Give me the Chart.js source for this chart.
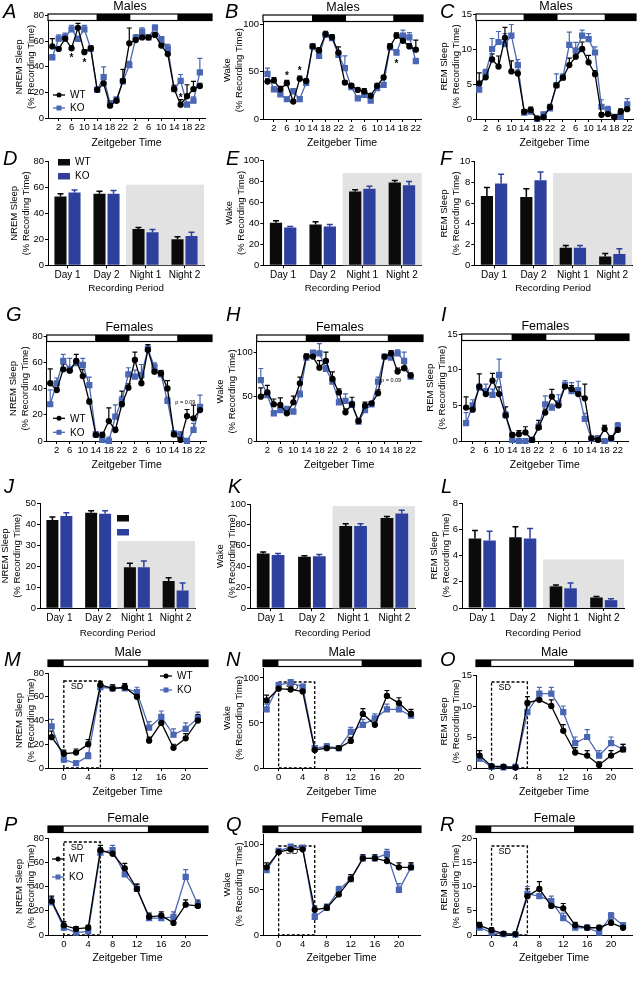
<!DOCTYPE html>
<html lang="en">
<head>
<meta charset="UTF-8">
<meta name="viewport" content="width=device-width, initial-scale=1.0">
<script src="https://cdn.jsdelivr.net/npm/chart.js"></script>
<title>Sleep / wake WT vs KO</title>
<style>
  body { margin: 0; background: #fff; }
  #fig { position: relative; width: 642px; height: 1000px; overflow: hidden; font-family: 'Liberation Sans', Arial, sans-serif; }
  #fig canvas { position: absolute; }
  .lt { position: absolute; font-size: 20px; line-height: 20px; font-style: italic; color: #000; }
</style>
</head>
<body>
<div id="fig"></div>
<script>
// ---------- data ----------
const zt48 = [0,2,4,6,8,10,12,14,16,18,20,22,24,26,28,30,32,34,36,38,40,42,44,46];
const zt48Ticks = [2,6,10,14,18,22,26,30,34,38,42,46];
const ld48 = [[-5,13.8,'L'],[13.8,24.4,'D'],[24.4,39,'L'],[39,99,'D']];
const zt24 = [-2,0,2,4,6,8,10,12,14,16,18,20,22];
const zt24Ticks = [0,4,8,12,16,20];
const ld24 = [[-9,0,'D'],[0,13.8,'L'],[13.8,99,'D']];
const periods = ['Day 1','Day 2','Night 1','Night 2'];

// males, 48 h
const aWT  = [56,54,62,54.5,70.5,51.5,54.5,22,27,9.6,13.5,29,58.4,61,63,63,65,56.6,50,22.6,10.4,17,22.6,25];
const aWTe = [6,1,2,2,3.5,2,2,2,1,1,2,9,12,3,1.5,1.5,2,2,2,3,4,9,6,2];
const aKO  = [47.5,62,63.4,69.4,61.8,69.4,54,22,32,11.7,14.3,28.6,41.3,62.3,67.5,63,70.6,61.6,54.5,22.6,29,10.4,13.5,35.6];
const aKOe = [2,3,3,3,2,3,2,2,8,2,2,2,3,3,3,2,2,2,3,3,5,2,3,11];
const aStars = [[6,48],[10,44],[40,17]];

const bWT  = [39.4,40.5,31.3,37.7,18.3,42.3,40,76.4,72.2,89.4,86,70,38.4,35,30.6,29,24.6,35,43.7,76.4,87.7,82.4,76.4,73];
const bWTe = [3,3,3,3,2,3,2,3,3,3,3,6,2,2,2,3,2,2,2,3,3,3,3,10];
const bKO  = [47.5,31.3,26,20.8,29,21,38,76.4,66.5,88.7,85.2,67.6,53.5,33.5,21.8,25.4,19.4,32.4,36,75.4,70,87.7,86,61];
const bKOe = [6,2,2,2,3,2,2,3,3,2,3,2,13,2,2,2,2,2,2,2,3,6,5,3];
const bStars = [[6,47.5],[10,52],[40,59.5]];

const cWT  = [5.1,5.95,8.5,7.5,11.6,6.8,6.5,1.05,1.3,0.1,0.25,1.7,4.8,5.9,7.7,8.9,10,8.1,6.4,0.6,0.7,0.25,1.05,1.4];
const cWTe = [1.5,0.5,0.8,1.5,1.5,1.5,0.5,0.3,0.4,0.2,0.2,0.4,0.3,0.3,1,1.2,1,1,0.5,0.3,0.2,0.2,0.4,0.6];
const cKO  = [4.2,6.6,10,11,10.7,11.9,7.7,0.9,1.05,0,0.65,1.5,4.85,5.95,10.6,9.75,11.9,11.4,9.5,1.75,1.3,0.3,0.3,2.1];
const cKOe = [0.5,0.5,1.5,1.5,1.5,1.6,0.8,0.3,0.3,0.1,0.3,0.4,1.6,0.5,1.8,1.2,0.8,0.8,0.8,1,0.5,0.3,0.4,0.8];

// males, period means
const dWT = [53,55,28,20],     dWTe = [2,2,1,2];
const dKO = [56,55,25.5,22.5], dKOe = [2,2.5,2,3];
const eWT = [40.5,39,70.5,79], eWTe = [2,2.5,1.5,2];
const eKO = [36,37,73,76.5],   eKOe = [1,2,2.5,3.5];
const fWT = [6.7,6.6,1.7,0.85], fWTe = [0.8,0.8,0.2,0.3];
const fKO = [7.9,8.2,1.7,1.1],  fKOe = [0.9,0.8,0.2,0.5];

// females, 48 h
const gWT  = [44,38.8,54.6,53.6,61,49.5,30,4.6,4.6,15.2,8.4,28,40.6,61.7,44,69.5,52.8,51.5,40,5,0.8,19,17.3,23.6];
const gWTe = [11,2,4,2,5,5,2,2,2,10,2,10,3,6,4,4,4,2,6,2,1,5,10,3];
const gKO  = [28,44,61,55,59.4,58,42.6,5,0.8,0,18.5,31,50.8,49,50.3,70,56.6,50.8,30.5,5.8,5,0,8.4,26];
const gKOe = [11,4,5,8,3,5,6,2,2,3,9,3,5,5,8,3,3,3,3,2,2,2,5,9];

const hWT  = [50.2,55,41.5,40.8,31.3,43.8,65.3,95.5,95.5,83,90.6,70.2,55,32.5,41.5,22.6,40,42.6,54,95.5,99.2,78.5,82.3,74];
const hWTe = [10,8,6,8,3,7,7,3,3,8,10,8,4,4,8,2,4,2,4,2,3,4,7,3];
const hKO  = [69,52,31.3,35,36.2,33.2,52.8,94.3,100,99.2,81.5,67.2,43.8,45.3,40.8,21.9,35,41.5,67.2,95.5,94.3,99.2,90.6,72.8];
const hKOe = [13,3,3,3,3,3,4,2,2,11,4,4,4,8,4,3,3,3,5,2,3,4,10,3];

const iWT  = [4.7,4.4,7.65,6.6,8.5,6.6,3.6,0.85,0.95,1.2,0.15,1.9,4,6.25,5,7.65,7.3,6.6,6,0.4,0.15,1.7,0.4,1.55];
const iWTe = [1.5,0.5,1.8,0.5,1,1,1.2,0.3,0.5,0.8,0.1,1,0.5,1,0.5,0.4,0.5,0.8,2,0.2,0.1,0.5,0.1,0.4];
const iKO  = [2.5,5,7.5,7,6.5,9.3,3.65,0.15,0,0,0.15,2,5.15,4.7,5.3,7.9,7,7.1,3.1,0.3,0.4,0,0.3,2.1];
const iKOe = [1.5,0.8,0.5,1,0.8,2.2,0.5,0.1,0.1,0.1,0.1,0.5,1.2,0.5,1.2,0.6,1.2,1.3,0.8,0.2,0.2,0.1,0.2,0.5];

// females, period means
const jWT = [42,45.5,19.5,13], jWTe = [1.5,1,2,1.5];
const jKO = [44,45,19.5,8.5],  jKOe = [1.5,1.5,3,3.5];
const kWT = [52.5,49.5,79,86.5], kWTe = [1.5,1,2,1.5];
const kKO = [51,50,79,91],       kKOe = [1.5,1.5,2,3];
const lWT = [5.3,5.4,1.65,0.8],  lWTe = [0.6,0.8,0.1,0.08];
const lKO = [5.15,5.3,1.5,0.6],  lKOe = [0.7,0.75,0.4,0.1];

// sleep deprivation, 24 h
const mWT  = [26,12,13,20,70,67,68,60,23,38,17,25,40];
const mWTe = [5,3,3,4,3,3,3,4,3,4,3,4,5];
const mKO  = [35,7,4,10,68,67,67,64,34,43,28,33,42];
const mKOe = [6,3,2,3,3,3,3,4,5,5,5,5,5];
const nWT  = [75,88,87,85,20,22,22,30,60,48,80,72,60];
const nWTe = [6,4,4,4,3,3,3,4,6,5,6,6,5];
const nKO  = [65,92,95,90,22,24,22,40,48,55,65,65,58];
const nKOe = [6,3,3,3,3,3,3,5,6,5,6,6,5];
const oWT  = [2,0.3,0.2,0.1,10.5,11,10,6,2.5,2,0.5,2,3];
const oWTe = [0.8,0.2,0.2,0.1,1,1.2,1,1,0.8,0.8,0.5,0.8,0.8];
const oKO  = [1.5,0.2,0.1,0.2,9,12,12,9,4,5,2,4,3];
const oKOe = [0.6,0.2,0.1,0.1,1,1,1,1,1,1.2,0.8,1,0.8];
const pWT  = [28,8,5,6,70,67,55,38,15,16,10,25,24];
const pWTe = [4,3,2,2,4,4,4,4,3,3,3,4,4];
const pKO  = [27,6,2,3,68,70,50,38,14,14,15,48,25];
const pKOe = [4,2,2,2,4,4,4,4,3,3,4,6,4];
const qWT  = [75,92,95,95,28,30,45,62,85,85,82,75,75];
const qWTe = [5,3,2,2,4,4,4,5,4,4,4,5,5];
const qKO  = [72,93,98,97,20,30,50,62,85,85,90,50,75];
const qKOe = [5,3,2,2,4,4,4,5,4,4,5,7,5];
const rWT  = [2,1,0.3,0.2,8,9.5,6,5.5,2,1.5,1.5,2.5,1.5];
const rWTe = [0.6,0.5,0.2,0.2,1.5,1.5,1,1,0.6,0.5,0.5,0.6,0.5];
const rKO  = [1.5,0.5,0.2,0.1,8.5,8,7,3.5,1.5,1.5,0.5,4,2];
const rKOe = [0.5,0.3,0.2,0.1,1.5,1.5,1,1,0.5,0.5,0.4,0.6,0.5];

// ---------- drawing ----------
const FONT = "'Liberation Sans', Arial, sans-serif";
const BLUE_LINE = '#4a67b5';
const BLUE_BAR = '#2e409e';
const GRAY = '#e2e2e2';
Chart.defaults.font.family = FONT;
Chart.defaults.color = '#000';
const fig = document.getElementById('fig');

function makeCanvas(p, wy, hx, padT, padR) {
  const L = Math.round(p.l - wy), T = Math.round(p.t - padT);
  const W = Math.round(p.r + padR - L), H = Math.round(p.b + hx - T);
  const cv = document.createElement('canvas');
  cv.width = W; cv.height = H;
  cv.style.left = L + 'px'; cv.style.top = T + 'px';
  fig.appendChild(cv);
  return {cv, L, T, wy: p.l - L, padT: p.t - T, padR: W - (p.r - L), hx: H - (p.b - T)};
}

function yScale(f, p) {
  return {
    min: 0, max: p.ymax,
    afterFit: s => { s.width = f.wy; },
    afterBuildTicks: s => { s.ticks = p.yticks.map(v => ({value: v})); },
    ticks: {font: {size: 9.5}, color: '#000', padding: 1},
    grid: {drawOnChartArea: false, tickLength: 3, color: '#000'},
    border: {color: '#000', width: 1},
    title: {display: true, text: p.ytitle, color: '#000', padding: 0, font: {size: 9.5, lineHeight: 1.23}}
  };
}

function errBar(ctx, x, y0, y1, col, half, lw) {
  ctx.strokeStyle = col; ctx.lineWidth = lw;
  ctx.beginPath();
  ctx.moveTo(x, y0); ctx.lineTo(x, y1);
  ctx.moveTo(x - half, y1); ctx.lineTo(x + half, y1);
  ctx.stroke();
}

function linePanel(p) {
  const f = makeCanvas(p, p.l - (p.yTitleX - 6.5), p.xTitleY - p.b + 6.3, p.t - p.barTop + 16, 10);
  const cx = x => x - f.L, cy = y => y - f.T;
  const decor = {
    id: 'decor',
    beforeDatasetsDraw(chart) {
      const {ctx, chartArea: a, scales: {x, y}} = chart;
      ctx.save();
      // light / dark bar
      const by = cy(p.barTop), bh = 6.5, xr = cx(p.barR);
      p.ld.forEach(([s, e, k]) => {
        const x0 = s <= x.min ? a.left : x.getPixelForValue(s);
        const x1 = e >= x.max ? xr : x.getPixelForValue(e);
        ctx.fillStyle = k === 'D' ? '#000' : '#fff';
        ctx.fillRect(x0, by, x1 - x0, bh);
      });
      ctx.strokeStyle = '#000'; ctx.lineWidth = 1.2;
      ctx.strokeRect(a.left, by, xr - a.left, bh);
      ctx.fillStyle = '#000'; ctx.font = '12.5px ' + FONT;
      ctx.textAlign = 'center'; ctx.textBaseline = 'middle';
      ctx.fillText(p.title, (a.left + xr) / 2, by - 7);
      // sleep deprivation box
      if (p.sd) {
        const x0 = x.getPixelForValue(p.sd[0]), x1 = x.getPixelForValue(p.sd[1]), y0 = cy(p.sdTop);
        ctx.setLineDash([3, 2]); ctx.lineWidth = 1.3; ctx.strokeStyle = '#000';
        ctx.strokeRect(x0, y0, x1 - x0, a.bottom - y0);
        ctx.setLineDash([]);
        ctx.font = '9px ' + FONT; ctx.textAlign = 'left';
        ctx.fillText('SD', x0 + 7, y0 + 6);
      }
      // error bars (upper only)
      [[p.ko, p.koErr, BLUE_LINE, 1], [p.wt, p.wtErr, '#000', 0]].forEach(([vals, errs, col, di]) => {
        chart.getDatasetMeta(di).data.forEach((pt, j) => {
          errBar(ctx, pt.x, pt.y, y.getPixelForValue(vals[j] + errs[j]), col, 2.5, 1.2);
        });
      });
      ctx.restore();
    },
    afterDatasetsDraw(chart) {
      const {ctx, scales: {x, y}} = chart;
      ctx.save();
      ctx.fillStyle = '#000'; ctx.textAlign = 'center'; ctx.textBaseline = 'middle';
      ctx.font = 'bold 10px ' + FONT;
      (p.stars || []).forEach(([zt, v]) => ctx.fillText('*', x.getPixelForValue(zt), y.getPixelForValue(v) + 2));
      if (p.pval) {
        ctx.font = '5.5px ' + FONT;
        ctx.fillText('p = 0.09', x.getPixelForValue(p.pval[0]), y.getPixelForValue(p.pval[1]));
      }
      if (p.legend) {
        const lg = p.legend;
        [['WT', '#000', 'circle', lg.y1], ['KO', BLUE_LINE, 'rect', lg.y2]].forEach(([t, col, st, yy]) => {
          const x0 = cx(lg.x), y0 = cy(yy);
          ctx.strokeStyle = col; ctx.fillStyle = col; ctx.lineWidth = 1.3;
          ctx.beginPath(); ctx.moveTo(x0, y0); ctx.lineTo(x0 + 12, y0); ctx.stroke();
          if (st === 'circle') { ctx.beginPath(); ctx.arc(x0 + 6, y0, 2.5, 0, Math.PI * 2); ctx.fill(); }
          else ctx.fillRect(x0 + 3.5, y0 - 2.5, 5, 5);
          ctx.fillStyle = '#000'; ctx.font = '10px ' + FONT; ctx.textAlign = 'left';
          ctx.fillText(t, x0 + 17, y0 + 0.5);
        });
      }
      ctx.restore();
    }
  };
  const pts = (xs, ys) => xs.map((v, i) => ({x: v, y: ys[i]}));
  new Chart(f.cv, {
    type: 'line',
    data: {datasets: [
      {data: pts(p.xs, p.wt), borderColor: '#000', backgroundColor: '#000', pointStyle: 'circle', pointRadius: 2.5, borderWidth: 1.3, clip: false},
      {data: pts(p.xs, p.ko), borderColor: BLUE_LINE, backgroundColor: BLUE_LINE, pointStyle: 'rect', pointRadius: 3.5, borderWidth: 1.3, clip: false}
    ]},
    options: {
      responsive: false, animation: false, events: [],
      layout: {padding: {top: f.padT, right: f.padR, left: 0, bottom: 0}},
      plugins: {legend: {display: false}, tooltip: {enabled: false}},
      scales: {
        x: {
          type: 'linear', min: p.xmin, max: p.xmax,
          afterFit: s => { s.height = f.hx; },
          afterBuildTicks: s => { s.ticks = p.xticks.map(v => ({value: v})); },
          ticks: {font: {size: 9.5}, color: '#000', padding: 1, maxRotation: 0, autoSkip: false, callback: v => v % 24},
          grid: {drawOnChartArea: false, tickLength: 3, color: '#000'},
          border: {color: '#000', width: 1},
          title: {display: true, text: 'Zeitgeber Time', color: '#000', padding: 0, font: {size: 10.5, lineHeight: 1.2}}
        },
        y: yScale(f, p)
      }
    },
    plugins: [decor]
  });
}

function barPanel(p) {
  const f = makeCanvas(p, p.l - (p.yTitleX - 6.5), p.xTitleY - p.b + 6, 12, 4);
  const cx = x => x - f.L, cy = y => y - f.T;
  const decor = {
    id: 'decor',
    beforeDatasetsDraw(chart) {
      const {ctx, chartArea: a, scales: {x, y}} = chart;
      const x0 = x.getPixelForValue(1.5), y0 = y.getPixelForValue(p.shade);
      ctx.save();
      ctx.fillStyle = GRAY;
      ctx.fillRect(x0, y0, a.right - x0, a.bottom - y0);
      ctx.restore();
    },
    afterDatasetsDraw(chart) {
      const {ctx, scales: {y}} = chart;
      ctx.save();
      [[p.wt, p.wtErr, '#000', 0], [p.ko, p.koErr, BLUE_BAR, 1]].forEach(([vals, errs, col, di]) => {
        chart.getDatasetMeta(di).data.forEach((b, j) => {
          errBar(ctx, b.x, b.y, y.getPixelForValue(vals[j] + errs[j]), col, 3, 1.5);
        });
      });
      if (p.legend) {
        const lg = p.legend;
        [['WT', '#0b0b0b', lg.y1], ['KO', BLUE_BAR, lg.y2]].forEach(([t, col, yy]) => {
          ctx.fillStyle = col;
          ctx.fillRect(cx(lg.x), cy(yy), 12, 6.5);
          if (lg.text) {
            ctx.fillStyle = '#000'; ctx.font = '10px ' + FONT;
            ctx.textAlign = 'left'; ctx.textBaseline = 'middle';
            ctx.fillText(t, cx(lg.x) + 17, cy(yy) + 3.5);
          }
        });
      }
      ctx.restore();
    }
  };
  new Chart(f.cv, {
    type: 'bar',
    data: {labels: periods, datasets: [
      {data: p.wt, backgroundColor: '#0b0b0b', categoryPercentage: 0.72, barPercentage: 0.86},
      {data: p.ko, backgroundColor: BLUE_BAR, categoryPercentage: 0.72, barPercentage: 0.86}
    ]},
    options: {
      responsive: false, animation: false, events: [],
      layout: {padding: {top: f.padT, right: f.padR, left: 0, bottom: 0}},
      plugins: {legend: {display: false}, tooltip: {enabled: false}},
      scales: {
        x: {
          afterFit: s => { s.height = f.hx; },
          ticks: {font: {size: 10}, color: '#000', padding: 1, maxRotation: 0, autoSkip: false},
          grid: {offset: false, drawOnChartArea: false, tickLength: 3, color: '#000'},
          border: {color: '#000', width: 1},
          title: {display: true, text: 'Recording Period', color: '#000', padding: 0, font: {size: 9.8, lineHeight: 1.2}}
        },
        y: yScale(f, p)
      }
    },
    plugins: [decor]
  });
}

const NREM = ['NREM Sleep', '(% Recording Time)'];
const WAKE = ['Wake', '(% Recording Time)'];
const REM = ['REM Sleep', '(% Recording Time)'];

// row 1 : males across 48 h
linePanel({title: 'Males', xs: zt48, xticks: zt48Ticks, ld: ld48, xmin: -1.34, xmax: 47.6,
  l: 48, r: 205, t: 15.7, b: 118, ymax: 80, yticks: [0,20,40,60,80], ytitle: NREM, yTitleX: 20, xTitleY: 143,
  barTop: 14, barR: 212, wt: aWT, wtErr: aWTe, ko: aKO, koErr: aKOe, stars: aStars, legend: {x: 53, y1: 95, y2: 108}});
linePanel({title: 'Males', xs: zt48, xticks: zt48Ticks, ld: ld48, xmin: -1.39, xmax: 47.6,
  l: 263, r: 421, t: 21.2, b: 119, ymax: 103, yticks: [0,50,100], ytitle: WAKE, yTitleX: 228.3, xTitleY: 142.7,
  barTop: 15, barR: 423, wt: bWT, wtErr: bWTe, ko: bKO, koErr: bKOe, stars: bStars});
linePanel({title: 'Males', xs: zt48, xticks: zt48Ticks, ld: ld48, xmin: -1, xmax: 47.8,
  l: 476, r: 633, t: 14, b: 119, ymax: 15, yticks: [0,5,10,15], ytitle: REM, yTitleX: 445, xTitleY: 142.7,
  barTop: 14, barR: 636, wt: cWT, wtErr: cWTe, ko: cKO, koErr: cKOe});

// row 2 : males, period means
barPanel({l: 48, r: 204, t: 161.3, b: 265.3, ymax: 80, yticks: [0,20,40,60,80], ytitle: NREM, yTitleX: 15, xTitleY: 288.3,
  shade: 62, wt: dWT, wtErr: dWTe, ko: dKO, koErr: dKOe, legend: {x: 58, y1: 159, y2: 173, text: true}});
barPanel({l: 263.3, r: 421.7, t: 160.5, b: 265.3, ymax: 100, yticks: [0,20,40,60,80,100], ytitle: WAKE, yTitleX: 230, xTitleY: 288.3,
  shade: 88, wt: eWT, wtErr: eWTe, ko: eKO, koErr: eKOe});
barPanel({l: 474.3, r: 632, t: 161.7, b: 265.3, ymax: 10, yticks: [0,2,4,6,8,10], ytitle: REM, yTitleX: 445, xTitleY: 288.3,
  shade: 8.9, wt: fWT, wtErr: fWTe, ko: fKO, koErr: fKOe});

// row 3 : females across 48 h
linePanel({title: 'Females', xs: zt48, xticks: zt48Ticks, ld: ld48, xmin: -1.08, xmax: 48.05,
  l: 46.7, r: 206.7, t: 336, b: 441, ymax: 80, yticks: [0,20,40,60,80], ytitle: NREM, yTitleX: 14, xTitleY: 465,
  barTop: 335, barR: 212, wt: gWT, wtErr: gWTe, ko: gKO, koErr: gKOe, pval: [41.5, 29.4], legend: {x: 53, y1: 418.3, y2: 432.3}});
linePanel({title: 'Females', xs: zt48, xticks: zt48Ticks, ld: ld48, xmin: -1.26, xmax: 49.4,
  l: 256.7, r: 421.7, t: 342, b: 441, ymax: 112, yticks: [0,50,100], ytitle: WAKE, yTitleX: 221.7, xTitleY: 465,
  barTop: 335, barR: 423, wt: hWT, wtErr: hWTe, ko: hKO, koErr: hKOe, pval: [40, 68]});
linePanel({title: 'Females', xs: zt48, xticks: zt48Ticks, ld: ld48, xmin: -1.33, xmax: 49.1,
  l: 461.7, r: 628, t: 334.3, b: 441, ymax: 15, yticks: [0,5,10,15], ytitle: REM, yTitleX: 431.7, xTitleY: 465,
  barTop: 334, barR: 629, wt: iWT, wtErr: iWTe, ko: iKO, koErr: iKOe});

// row 4 : females, period means
barPanel({l: 40, r: 195, t: 503.3, b: 608.3, ymax: 50, yticks: [0,10,20,30,40,50], ytitle: NREM, yTitleX: 6, xTitleY: 633.3,
  shade: 32, wt: jWT, wtErr: jWTe, ko: jKO, koErr: jKOe, legend: {x: 117, y1: 515, y2: 529, text: false}});
barPanel({l: 250, r: 415, t: 504, b: 608.3, ymax: 100, yticks: [0,20,40,60,80,100], ytitle: WAKE, yTitleX: 221.7, xTitleY: 633.3,
  shade: 98, wt: kWT, wtErr: kWTe, ko: kKO, koErr: kKOe});
barPanel({l: 462, r: 624, t: 503, b: 608, ymax: 8, yticks: [0,2,4,6,8], ytitle: REM, yTitleX: 435, xTitleY: 633.3,
  shade: 3.7, wt: lWT, wtErr: lWTe, ko: lKO, koErr: lKOe});

// rows 5-6 : sleep deprivation, 24 h
const sd24 = [0, 6];
linePanel({title: 'Male', xs: zt24, xticks: zt24Ticks, ld: ld24, xmin: -2.6, xmax: 23.5,
  l: 48, r: 207, t: 673, b: 768, ymax: 80, yticks: [0,10,20,30,40,50,60,70,80], ytitle: NREM, yTitleX: 20, xTitleY: 792,
  barTop: 660, barR: 208, wt: mWT, wtErr: mWTe, ko: mKO, koErr: mKOe, sd: sd24, sdTop: 681, legend: {x: 160, y1: 676, y2: 690}});
linePanel({title: 'Male', xs: zt24, xticks: zt24Ticks, ld: ld24, xmin: -2.6, xmax: 23.5,
  l: 263, r: 420, t: 668, b: 768, ymax: 111, yticks: [0,50,100], ytitle: WAKE, yTitleX: 228, xTitleY: 792,
  barTop: 660, barR: 421, wt: nWT, wtErr: nWTe, ko: nKO, koErr: nKOe, sd: sd24, sdTop: 682});
linePanel({title: 'Male', xs: zt24, xticks: zt24Ticks, ld: ld24, xmin: -2.6, xmax: 23.5,
  l: 476, r: 632, t: 675, b: 768, ymax: 15, yticks: [0,5,10,15], ytitle: REM, yTitleX: 445, xTitleY: 792,
  barTop: 660, barR: 633, wt: oWT, wtErr: oWTe, ko: oKO, koErr: oKOe, sd: sd24, sdTop: 682});
linePanel({title: 'Female', xs: zt24, xticks: zt24Ticks, ld: ld24, xmin: -2.6, xmax: 23.5,
  l: 48, r: 207, t: 838, b: 935, ymax: 80, yticks: [0,10,20,30,40,50,60,70,80], ytitle: NREM, yTitleX: 20, xTitleY: 958,
  barTop: 826, barR: 208, wt: pWT, wtErr: pWTe, ko: pKO, koErr: pKOe, sd: sd24, sdTop: 842, legend: {x: 52, y1: 859, y2: 877}});
linePanel({title: 'Female', xs: zt24, xticks: zt24Ticks, ld: ld24, xmin: -2.6, xmax: 23.5,
  l: 263, r: 420, t: 834, b: 935, ymax: 112, yticks: [0,50,100], ytitle: WAKE, yTitleX: 228, xTitleY: 958,
  barTop: 826, barR: 421, wt: qWT, wtErr: qWTe, ko: qKO, koErr: qKOe, sd: sd24, sdTop: 846});
linePanel({title: 'Female', xs: zt24, xticks: zt24Ticks, ld: ld24, xmin: -2.6, xmax: 23.5,
  l: 476, r: 632, t: 838, b: 935, ymax: 20, yticks: [0,5,10,15,20], ytitle: REM, yTitleX: 445, xTitleY: 958,
  barTop: 826, barR: 633, wt: rWT, wtErr: rWTe, ko: rKO, koErr: rKOe, sd: sd24, sdTop: 846});

// panel letters
const letters = [['A',3,0.7],['B',225,0.7],['C',440,0.7],['D',3,148],['E',226,148],['F',440,148],
  ['G',6,304],['H',226,304],['I',441,304],['J',4,476],['K',228,476],['L',441,476],
  ['M',4,649],['N',226,649],['O',440,649],['P',4,814],['Q',226,814],['R',440,814]];
letters.forEach(([t, x, y]) => {
  const d = document.createElement('div');
  d.className = 'lt'; d.textContent = t;
  d.style.left = x + 'px'; d.style.top = y + 'px';
  fig.appendChild(d);
});
</script>
</body>
</html>
